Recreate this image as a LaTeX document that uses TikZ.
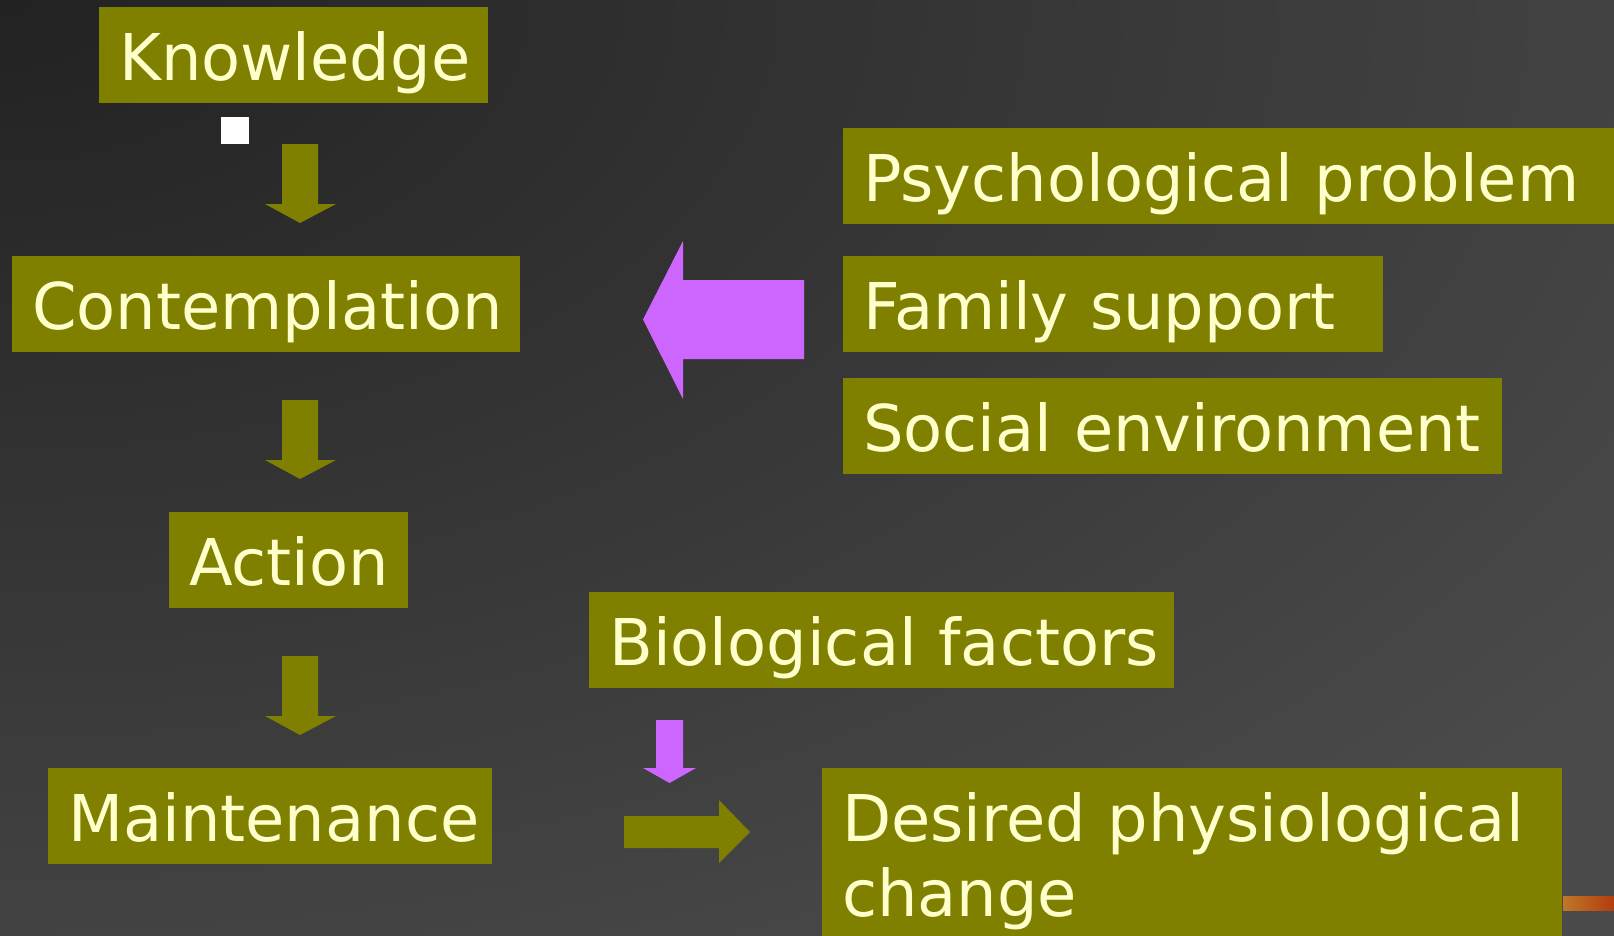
\documentclass[tikz,border=0pt]{standalone}
\usepackage{fontspec}
\setmainfont{DejaVu Sans}[FakeStretch=0.99]
\usepackage{xcolor}
\hyphenpenalty=10000
\exhyphenpenalty=10000

\definecolor{boxolive}{RGB}{128,128,0}
\definecolor{cream}{RGB}{255,255,204}
\definecolor{lilac}{RGB}{204,102,255}
\definecolor{bginner}{RGB}{34,34,34}
\definecolor{bgouter}{RGB}{74,74,74}

\begin{document}
\begin{tikzpicture}[x=1pt, y=-1pt,
    every node/.style={font=\fontsize{64.5}{75}\selectfont},
    stage/.style={fill=boxolive, text=cream, anchor=north west, align=left,
      inner xsep=20pt, inner ysep=0pt, text height=65pt, text depth=15pt,
      minimum height=96pt, text width=#1}]
            \useasboundingbox (0,0) rectangle (1614,935);
            \begin{scope}
              \clip (0,0) rectangle (1614,935);
              \shade[inner color=bginner, outer color=bgouter] (-2000,-1150) rectangle (2000,1150);
            \end{scope}

            \node[stage=349pt] (know) at (99,7) {Knowledge};
            \node[stage=468pt] (contemp) at (12,256) {Contemplation};
            \node[stage=199pt] (action) at (169,512) {Action};
            \node[stage=404pt] (maint) at (48,768) {Maintenance};

            \node[stage=740pt] (psych) at (843,128) {Psychological~problem};
            \node[stage=500pt] (family) at (843,256) {Family~support};
            \node[stage=619pt] (social) at (843,378) {Social~environment};
            \node[stage=545pt] (bio) at (589,592) {Biological~factors};
            \node[stage=700pt, text height=73pt, text depth=107pt] (change) at (822,768) {Desired physiological\\change};

            \fill[white] (221,117) rectangle (249,144);

            % stage to stage
            \foreach \ya in {144,400,656}
              \fill[boxolive] (282,\ya) -- (318,\ya) -- (318,\ya+60) -- (336,\ya+60) -- (300,\ya+79) -- (265,\ya+60) -- (282,\ya+60) -- cycle;

            % influences
            \fill[lilac] (804,280) -- (683,280) -- (683,241) -- (643,319.5) -- (683,399) -- (683,359) -- (804,359) -- cycle;
            \fill[lilac] (656,720) -- (683,720) -- (683,768) -- (696,768) -- (669.5,783) -- (643,768) -- (656,768) -- cycle;
            \fill[boxolive] (624,816) -- (719,816) -- (719,800) -- (750,832) -- (719,863) -- (719,848) -- (624,848) -- cycle;

            \shade[left color={rgb,255:red,190;green,120;blue,40}, right color={rgb,255:red,180;green,60;blue,15}] (1563,896) rectangle (1614,910);
          \end{tikzpicture}
\end{document}
